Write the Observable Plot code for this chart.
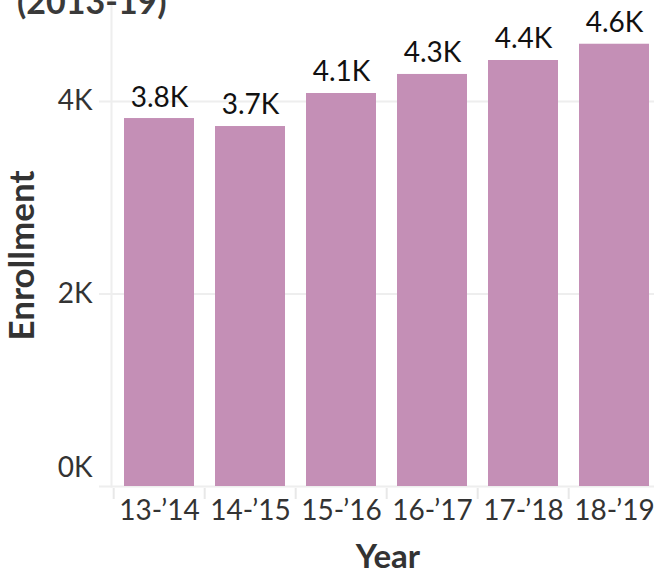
<!DOCTYPE html>
<html><head><meta charset="utf-8">
<script src="https://cdn.jsdelivr.net/npm/d3@7"></script>
<script src="https://cdn.jsdelivr.net/npm/@observablehq/plot@0.6"></script>
<style>
body{margin:0;background:#fff;}
#wrap{position:relative;width:654px;height:574px;overflow:hidden;}
#title{position:absolute;left:17px;top:-16px;font-family:Lato;font-weight:bold;font-size:34px;color:#3a3a3a;line-height:1;white-space:nowrap;z-index:2;}
#chart{position:absolute;left:0;top:0;}
</style></head><body>
<div id="wrap"><div id="chart"></div><div id="title">(2013-19)</div></div>
<script>
const years = ["13-’14", "14-’15", "15-’16", "16-’17", "17-’18", "18-’19"];
const enrollment = [3823, 3740, 4083, 4281, 4426, 4595];
const yTicks = [2000, 4000];
const zeroTick = [0];
const gridTicks = [0, 2000, 4000];

const table = years.map((y, i) => ({year: y, value: enrollment[i]}));
const kFmt = d => d / 1000 + "K";

const chart = Plot.plot({
  width: 654,
  height: 574,
  marginLeft: 111,
  marginRight: 0,
  marginTop: 0,
  marginBottom: 88,
  style: {fontFamily: "Lato", background: "white"},
  x: {domain: years, range: [111, 661], paddingInner: 0.236, paddingOuter: 0.12},
  y: {domain: [0, 4000], range: [486, 101]},
  marks: [
    Plot.ruleY(gridTicks, {stroke: "#eeeeee", strokeWidth: 2, insetLeft: -12}),
    Plot.frame({anchor: "left", stroke: "#eeeeee", strokeWidth: 2}),
    Plot.axisX(years, {tickSize: 11, tickFormat: () => "", dx: -45.8, dy: 2, stroke: "#e8e8e8", strokeWidth: 2, label: null}),
    Plot.axisX(years, {tickSize: 0, tickPadding: 14, fontSize: 28, fill: "#333", label: null}),
    Plot.axisY(yTicks, {tickSize: 0, tickPadding: 19, tickFormat: kFmt, fontSize: 28, fill: "#333", label: null}),
    Plot.axisY(zeroTick, {tickSize: 0, tickPadding: 19, tickFormat: kFmt, fontSize: 28, fill: "#333", dy: -18, label: null}),
    Plot.barY(table, {x: "year", y: "value", fill: "#c48fb6"}),
    Plot.text(table, {x: "year", y: "value", text: d => (d.value / 1000).toFixed(1) + "K", dy: -21, fontSize: 28, fill: "#111"}),
    Plot.text(["Enrollment"], {text: d => d, frameAnchor: "left", textAnchor: "middle", lineAnchor: "middle", dx: -89, dy: 12, rotate: -90, fontSize: 35, fontWeight: "bold", fill: "#333"}),
    Plot.text(["Year"], {text: d => d, frameAnchor: "bottom", textAnchor: "middle", lineAnchor: "middle", dx: 5, dy: 71, fontSize: 33, fontWeight: "bold", fill: "#333"})
  ]
});
document.getElementById("chart").appendChild(chart);
</script>
</body></html>
